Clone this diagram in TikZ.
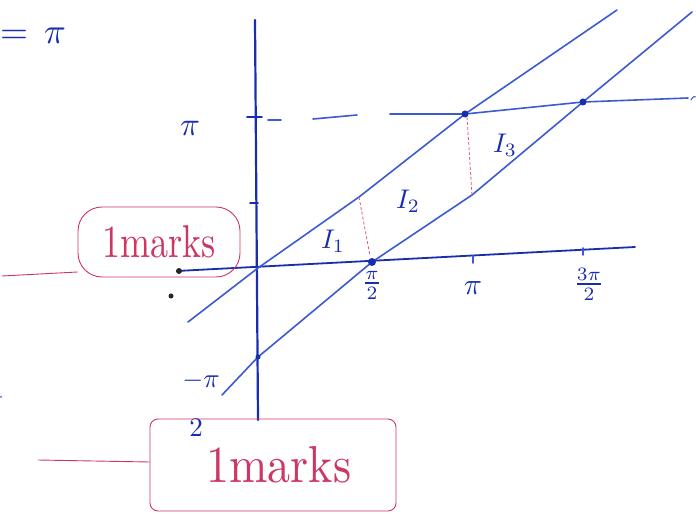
\documentclass[tikz,border=0pt]{standalone}
\usepackage{amsmath}
\usepackage{graphicx}
\newcommand{\hlbl}[1]{\scalebox{2.7}{#1}}
\begin{document}
\begin{tikzpicture}[x=1pt,y=-1pt,
  ink/.style={draw=inkblue,line width=1.6pt,line cap=round,line join=round},
  axis/.style={draw=axblue,line width=2.2pt,line cap=round},
  redink/.style={draw=redpen,line width=0.9pt},
  reddash/.style={draw=redpen!80,line width=0.8pt,dash pattern=on 3pt off 2pt},
  lbl/.style={text=axblue,inner sep=0pt},
  marks/.style={text=redpen,inner sep=0pt},
  pt/.style={circle,fill=axblue,inner sep=0pt,minimum size=6pt}]
\definecolor{inkblue}{RGB}{60,90,210}
\definecolor{axblue}{RGB}{25,45,175}
\definecolor{redpen}{RGB}{205,55,100}
\path[use as bounding box,fill=white] (0,0) rectangle (696,518);

% top-left fragment
\node[lbl,anchor=west] (eqpi) at (0,36) {\scalebox{3.6}{$=\,\pi$}};

% axes
\coordinate (ytop) at (255,20);
\coordinate (ybot) at (258,420);
\draw[axis] (ytop) -- (ybot);
\coordinate (xl) at (177,271);
\coordinate (xr) at (635,247);
\draw[axis,line width=1.8pt] (xl) -- (xr);
\node[circle,fill=black!85,inner sep=0pt,minimum size=6pt] (dotA) at (179,271) {};
\node[circle,fill=black!85,inner sep=0pt,minimum size=5pt] (dotB) at (171,296) {};

% y ticks
\draw[axis,line width=1.6pt] (247,117) -- (262,117);
\draw[axis,line width=1.6pt] (250,203) -- (258,203);
\node[lbl] (ypi) at (190,128) {\scalebox{3.3}{$\pi$}};
\node[lbl,anchor=east] (ympi) at (220,381) {\hlbl{$-\pi$}};
\node[lbl] (ytwo) at (196,428) {\hlbl{$2$}};

% x ticks
\draw[ink] (473,256) -- (473,263);
\draw[ink] (583,248) -- (583,255);
\node[lbl] (xpih) at (372,285) {\hlbl{$\frac{\pi}{2}$}};
\node[lbl] (xpi) at (473,288) {\scalebox{3}{$\pi$}};
\node[lbl] (xtpih) at (589,284) {\hlbl{$\frac{3\pi}{2}$}};

% lines
\coordinate (u0) at (188,322);
\coordinate (u1) at (258,268);
\coordinate (u2) at (359,197);
\coordinate (u3) at (465,114);
\coordinate (u4) at (617,10);
\draw[ink] (u0) -- (u1) -- (u2) -- (u3) -- (u4);
\coordinate (l0) at (222,395);
\coordinate (l1) at (258,357);
\coordinate (l2) at (372,262);
\coordinate (l3) at (472,195);
\coordinate (l4) at (583,102);
\coordinate (l5) at (692,12);
\draw[ink] (l0) -- (l1) -- (l2) -- (l3) -- (l4) -- (l5);

% y = pi line
\draw[ink] (268,120) -- (281,120);
\draw[ink] (313,119) -- (357,115);
\draw[ink] (390,114) -- (u3) -- (l4) -- (688,98);
\draw[ink,line width=1pt] (691,100) .. controls (693,96) and (695,96) .. (696,97);

% points
\node[pt,minimum size=7pt] (pA) at (u3) {};
\node[pt,minimum size=7pt] (pB) at (l4) {};
\node[pt,minimum size=8pt] (pC) at (l2) {};
\node[pt,minimum size=5pt] (pD) at (l1) {};

% red dashed verticals
\draw[reddash] (u2) -- (370,256);
\draw[reddash] (467,117) -- (l3);

% I labels
\node[lbl] (i1) at (333,241) {\hlbl{$I_1$}};
\node[lbl] (i2) at (408,201) {\hlbl{$I_2$}};
\node[lbl] (i3) at (505,145) {\hlbl{$I_3$}};

% red boxes
\node[marks,draw=redpen,line width=0.9pt,rounded corners=24pt,minimum width=162pt,minimum height=70pt] (m1) at (159,242) {\scalebox{3.6}[4.6]{1marks}};
\coordinate (m1tail) at (2,276);
\draw[redink] (m1tail) -- (m1.west |- 0,272);
\node[marks,draw=redpen,line width=0.9pt,rounded corners=8pt,minimum width=246pt,minimum height=92pt] (m2) at (273,465) {\hspace*{12pt}\scalebox{4.6}[5.2]{1marks}};
\coordinate (m2tail) at (38,460);
\draw[redink] (m2tail) -- (m2.west |- 0,462);

% stray mark
\node[circle,fill=inkblue,inner sep=0pt,minimum size=2pt] (stray) at (1,397) {};
\end{tikzpicture}
\end{document}
